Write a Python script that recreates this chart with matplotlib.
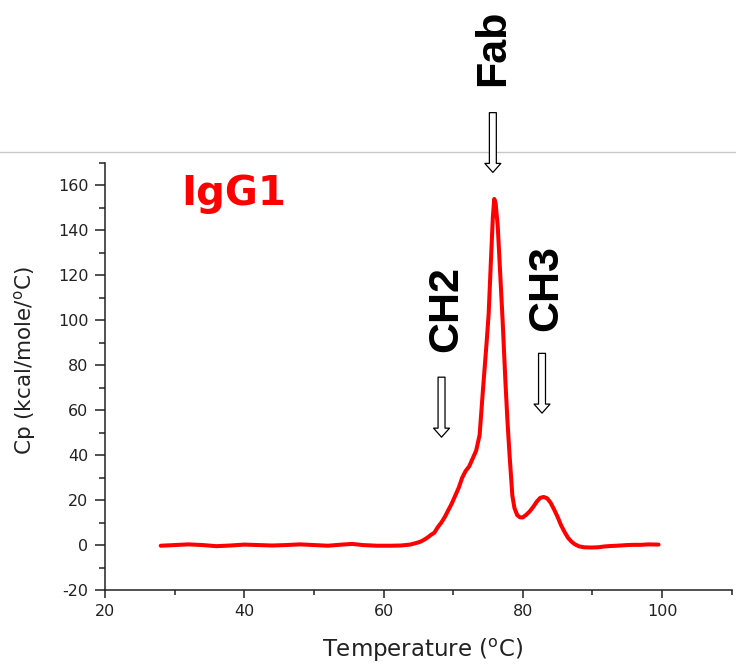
import numpy as np
import matplotlib
matplotlib.use('Agg')
import matplotlib.pyplot as plt
from matplotlib.lines import Line2D

plt.rcParams['axes.unicode_minus'] = False

# --------------------------------------------------------------------------------
# DATA

temperature = [28, 30, 32, 34, 36, 38, 40, 42, 44, 46, 48, 50, 52, 54, 55.5, 57, 59, 61, 62.5, 63.8,
               64.8, 65.3, 65.8, 66.3, 66.8, 67.3, 67.8, 68.3, 68.8, 69.3, 69.8, 70.3, 70.8, 71.3, 71.8,
               72.3, 72.8, 73.3, 73.8, 74.3, 74.8, 75.1, 75.4, 75.7, 75.9, 76.1, 76.4, 76.8, 77.1, 77.5,
               77.8, 78.1, 78.5, 78.8, 79.2, 79.6, 80.0, 80.5, 81.0, 81.5, 82.0, 82.5, 83.0, 83.5, 84.0,
               84.5, 85.0, 85.5, 86.0, 86.5, 87.0, 87.5, 88.1, 88.8, 89.8, 90.8, 91.8, 92.8, 94, 95, 96,
               97, 98, 99.5]
cp = [-0.3, 0, 0.3, 0, -0.5, -0.2, 0.2, 0, -0.2, 0, 0.3, 0, -0.3, 0.2, 0.5, 0, -0.3, -0.3, -0.2, 0.2,
      1.0, 1.5, 2.3, 3.3, 4.5, 5.5, 8.0, 10.0, 12.5, 15.5, 18.5, 22, 25.5, 30, 33,
      35, 38.5, 42, 49, 70, 90, 103, 125, 146, 154, 152, 142, 118, 100, 73,
      55, 40, 22, 16.5, 13.3, 12.3, 12.3, 13.5, 15, 17, 19.3, 21, 21.4, 20.8, 18.8,
      15.8, 12.5, 8.8, 5.8, 3.2, 1.5, 0.3, -0.6, -1.0, -1.1, -1.0, -0.6, -0.4, -0.2, 0, 0.1,
      0.1, 0.3, 0.2]

# domain labels: name, arrow x, arrow tail y, arrow tip y, text x, text y
domain_names = ['Fab', 'CH2', 'CH3']
arrow_x = [75.7, 68.33, 82.76]
arrow_tail = [192.4, 74.7, 85.3]
arrow_tip = [165.8, 48.0, 58.7]
label_x = [75.8, 68.95, 83.4]
label_y = [221.3, 104.9, 114.4]

x_ticks = [20, 40, 60, 80, 100]
y_ticks = [-20, 0, 20, 40, 60, 80, 100, 120, 140, 160]

# --------------------------------------------------------------------------------
# PLOT

fig = plt.figure(figsize=(7.36, 6.66), dpi=100)
ax = fig.add_axes([105 / 736, 76 / 666, 626.7 / 736, 427 / 666])

ax.plot(temperature, cp, color='#ff0000', lw=2.9, solid_capstyle='round')

ax.set_xlim(20, 110)
ax.set_ylim(-20, 170)
ax.set_xticks(x_ticks)
ax.set_yticks(y_ticks)
ax.set_xticks(np.arange(30, 111, 20), minor=True)
ax.set_yticks(np.arange(-10, 171, 20), minor=True)

for s in ['top', 'right']:
    ax.spines[s].set_visible(False)
for s in ['left', 'bottom']:
    ax.spines[s].set_linewidth(1.1)
    ax.spines[s].set_color('#222222')

ax.tick_params(axis='both', which='both', direction='out', color='#222222', width=1.1,
               labelsize=11.5, labelcolor='#222222')
ax.tick_params(axis='y', which='major', length=7, pad=5)
ax.tick_params(axis='y', which='minor', length=4.3)
ax.tick_params(axis='x', which='major', length=6, pad=4)
ax.tick_params(axis='x', which='minor', length=3.5)

ax.set_xlabel('Temperature ($^{\\mathregular{o}}$C)', fontsize=16.5, color='#222222')
ax.set_ylabel('Cp (kcal/mole/$^{\\mathregular{o}}$C)', fontsize=15.5, color='#222222')
ax.xaxis.set_label_coords(0.507, -0.1405)
ax.xaxis.label.set_va('center')
ax.yaxis.set_label_coords(-0.1277, 0.536)
ax.yaxis.label.set_va('center')

ax.text(38.5, 156.0, 'IgG1', color='#ff0000', fontsize=29, fontweight='bold',
        ha='center', va='center')

for name, ax_x, tail, tip, tx, ty in zip(domain_names, arrow_x, arrow_tail, arrow_tip, label_x, label_y):
    ax.annotate('', xy=(ax_x, tip), xytext=(ax_x, tail), annotation_clip=False,
                arrowprops=dict(arrowstyle='simple,head_width=11.5,head_length=6.5,tail_width=5',
                                mutation_scale=1, fc='white', ec='black', lw=0.9,
                                shrinkA=0, shrinkB=0))
    ax.text(tx, ty, name, rotation=90, fontsize=31, fontweight='bold', family='Liberation Sans',
            ha='center', va='center', clip_on=False)

# slide divider line
fig.add_artist(Line2D([0, 1], [514 / 666, 514 / 666], transform=fig.transFigure,
                      color='#c8c8c8', lw=1.0, zorder=-1))

fig.savefig('out.png', dpi=100)
